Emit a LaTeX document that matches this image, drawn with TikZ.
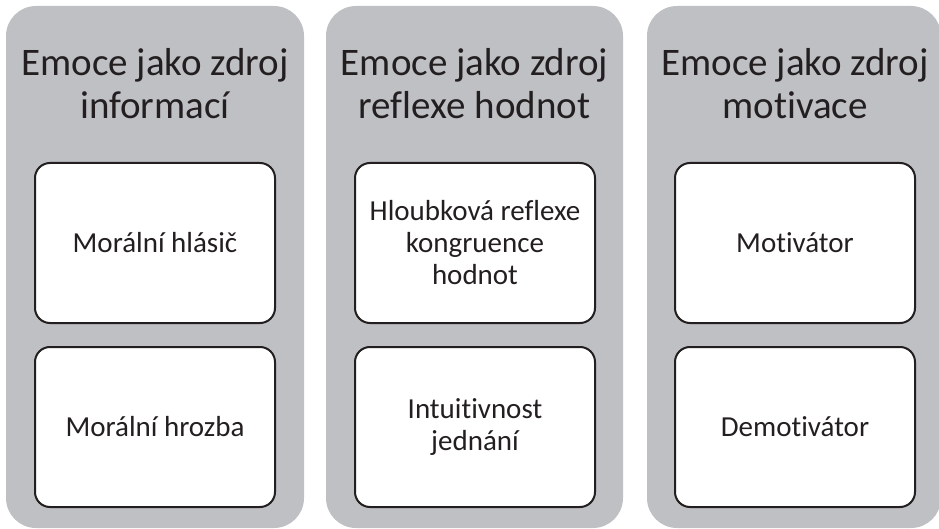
\documentclass[tikz,border=0pt]{standalone}
\usepackage{fontspec}
\setmainfont{Carlito}[Ligatures={NoCommon}]
\usepackage{tikz}
\usetikzlibrary{positioning}
\definecolor{panelgray}{RGB}{191,192,196}
\definecolor{ink}{RGB}{35,31,32}

\begin{document}
\begin{tikzpicture}[x=1pt,y=-1pt]
          \tikzstyle{every node}+=[inner sep=0pt, outer sep=0pt, text=ink]
          \tikzstyle{panel}=[fill=panelgray, rounded corners=30pt, minimum height=522pt]
          \tikzstyle{head}=[font=\fontsize{39}{43}\selectfont, align=center]
          \tikzstyle{card}=[draw=ink, line width=2pt, fill=white, rounded corners=15pt, minimum width=240pt, minimum height=160pt, font=\fontsize{29}{32}\selectfont, align=center]
          \useasboundingbox (0,0) rectangle (939,529);
          \node [panel, minimum width=298pt] (col1) at (155,267) {};
          \node [panel, minimum width=297pt] (col2) at (474.5,267) {};
          \node [panel, minimum width=294pt] (col3) at (794,267) {};
          \node [head] (head1) at (155,84) {Emoce jako zdroj\\informací};
          \node [head] (head2) at (474.5,84) {Emoce jako zdroj\\reflexe hodnot};
          \node [head] (head3) at (795,84) {Emoce jako zdroj\\motivace};
          \node [card] (card11) at (155,243) {Morální hlásič};
          \node [card, below=24pt of card11] (card12) {Morální hrozba};
          \node [card] (card21) at (475,243) {Hloubková reflexe\\kongruence\\hodnot};
          \node [card, below=24pt of card21] (card22) {Intuitivnost\\jednání};
          \node [card] (card31) at (795,243) {Motivátor};
          \node [card, below=24pt of card31] (card32) {Demotivátor};
        \end{tikzpicture}
\end{document}
